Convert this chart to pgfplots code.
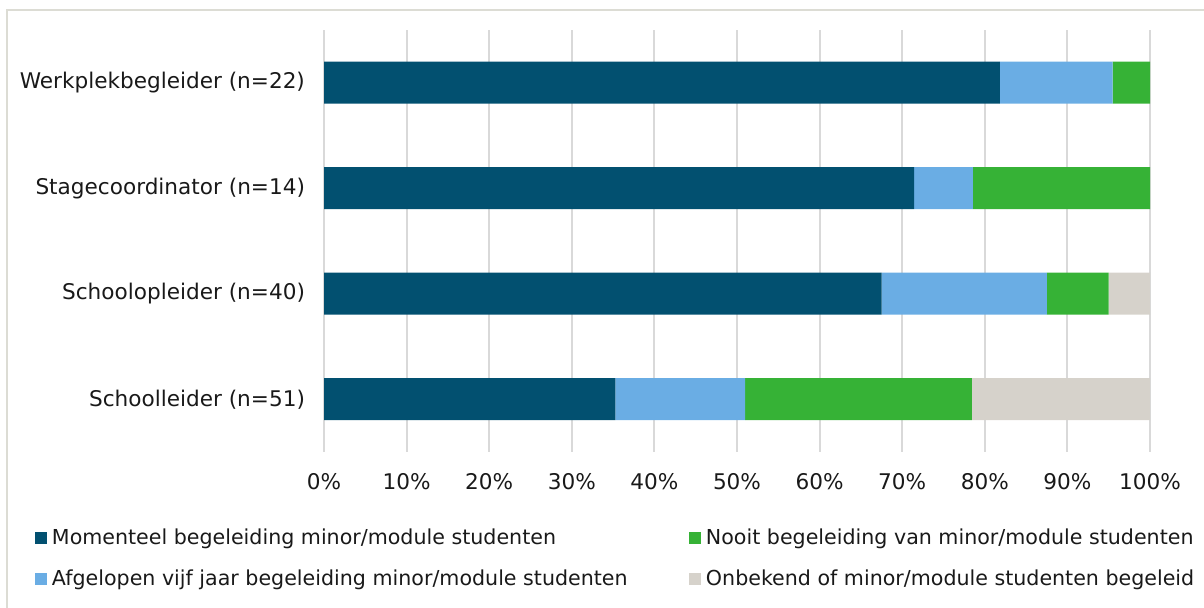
\documentclass[border=0pt]{standalone}
\usepackage{pgfplots}
\pgfplotsset{compat=1.18}
\usepackage{fontspec}
\setmainfont{DejaVu Sans}
\definecolor{cdark}{HTML}{025070}
\definecolor{clight}{HTML}{6AADE4}
\definecolor{cgreen}{HTML}{36B236}
\definecolor{cgray}{HTML}{D6D2CB}
\definecolor{cgrid}{HTML}{D9D9D9}
\definecolor{cframe}{HTML}{DCDCD4}
\begin{document}
\begin{tikzpicture}
\useasboundingbox (0,0) rectangle (602pt,304pt);
\draw[cframe, line width=1pt] (3.25pt,0pt) -- (3.25pt,298.75pt) -- (602pt,298.75pt);
\begin{axis}[
  at={(162pt,78pt)}, anchor=south west,
  scale only axis, width=413pt, height=211pt,
  xbar stacked, bar width=21pt,
  xmin=0, xmax=100, ymin=-0.5, ymax=3.5,
  xtick={0,10,...,100},
  xticklabel={\pgfmathprintnumber{\tick}\%},
  ytick={0,1,2,3},
  yticklabels={Schoolleider (n=51),Schoolopleider (n=40),Stagecoordinator (n=14),Werkplekbegleider (n=22)},
  /pgf/number format/assume math mode=true,
  xmajorgrids, grid style={cgrid, line width=1pt},
  axis line style={draw=none},
  major tick length=0pt,
  tick label style={font=\fontsize{10.8}{13}\selectfont, text=black!90},
  xticklabel style={yshift=-7pt},
  yticklabel style={xshift=-6pt},
  legend style={at={(-0.3499,-0.182)}, anchor=north west, draw=none, fill=none,
    inner sep=0pt, outer sep=0pt, font=\fontsize{10.3}{12}\selectfont,
    nodes={inner sep=0pt, text=black!90}, column sep=2.5pt, row sep=11pt},
  legend columns=2, transpose legend, legend cell align=left,
  legend image code/.code={\fill[#1,draw=none] (0pt,-3pt) rectangle (6pt,3pt);},
]
\addplot[fill=cdark, draw=none] coordinates {(35.29,0) (67.5,1) (71.43,2) (81.82,3)};
\addlegendentry{\makebox[316pt][l]{Momenteel begeleiding minor/module studenten}}
\addplot[fill=clight, draw=none] coordinates {(15.69,0) (20,1) (7.14,2) (13.64,3)};
\addlegendentry{\makebox[316pt][l]{Afgelopen vijf jaar begeleiding minor/module studenten}}
\addplot[fill=cgreen, draw=none] coordinates {(27.45,0) (7.5,1) (21.43,2) (4.54,3)};
\addlegendentry{Nooit begeleiding van minor/module studenten}
\addplot[fill=cgray, draw=none] coordinates {(21.57,0) (5,1) (0,2) (0,3)};
\addlegendentry{Onbekend of minor/module studenten begeleid}
\end{axis}
\end{tikzpicture}
\end{document}
